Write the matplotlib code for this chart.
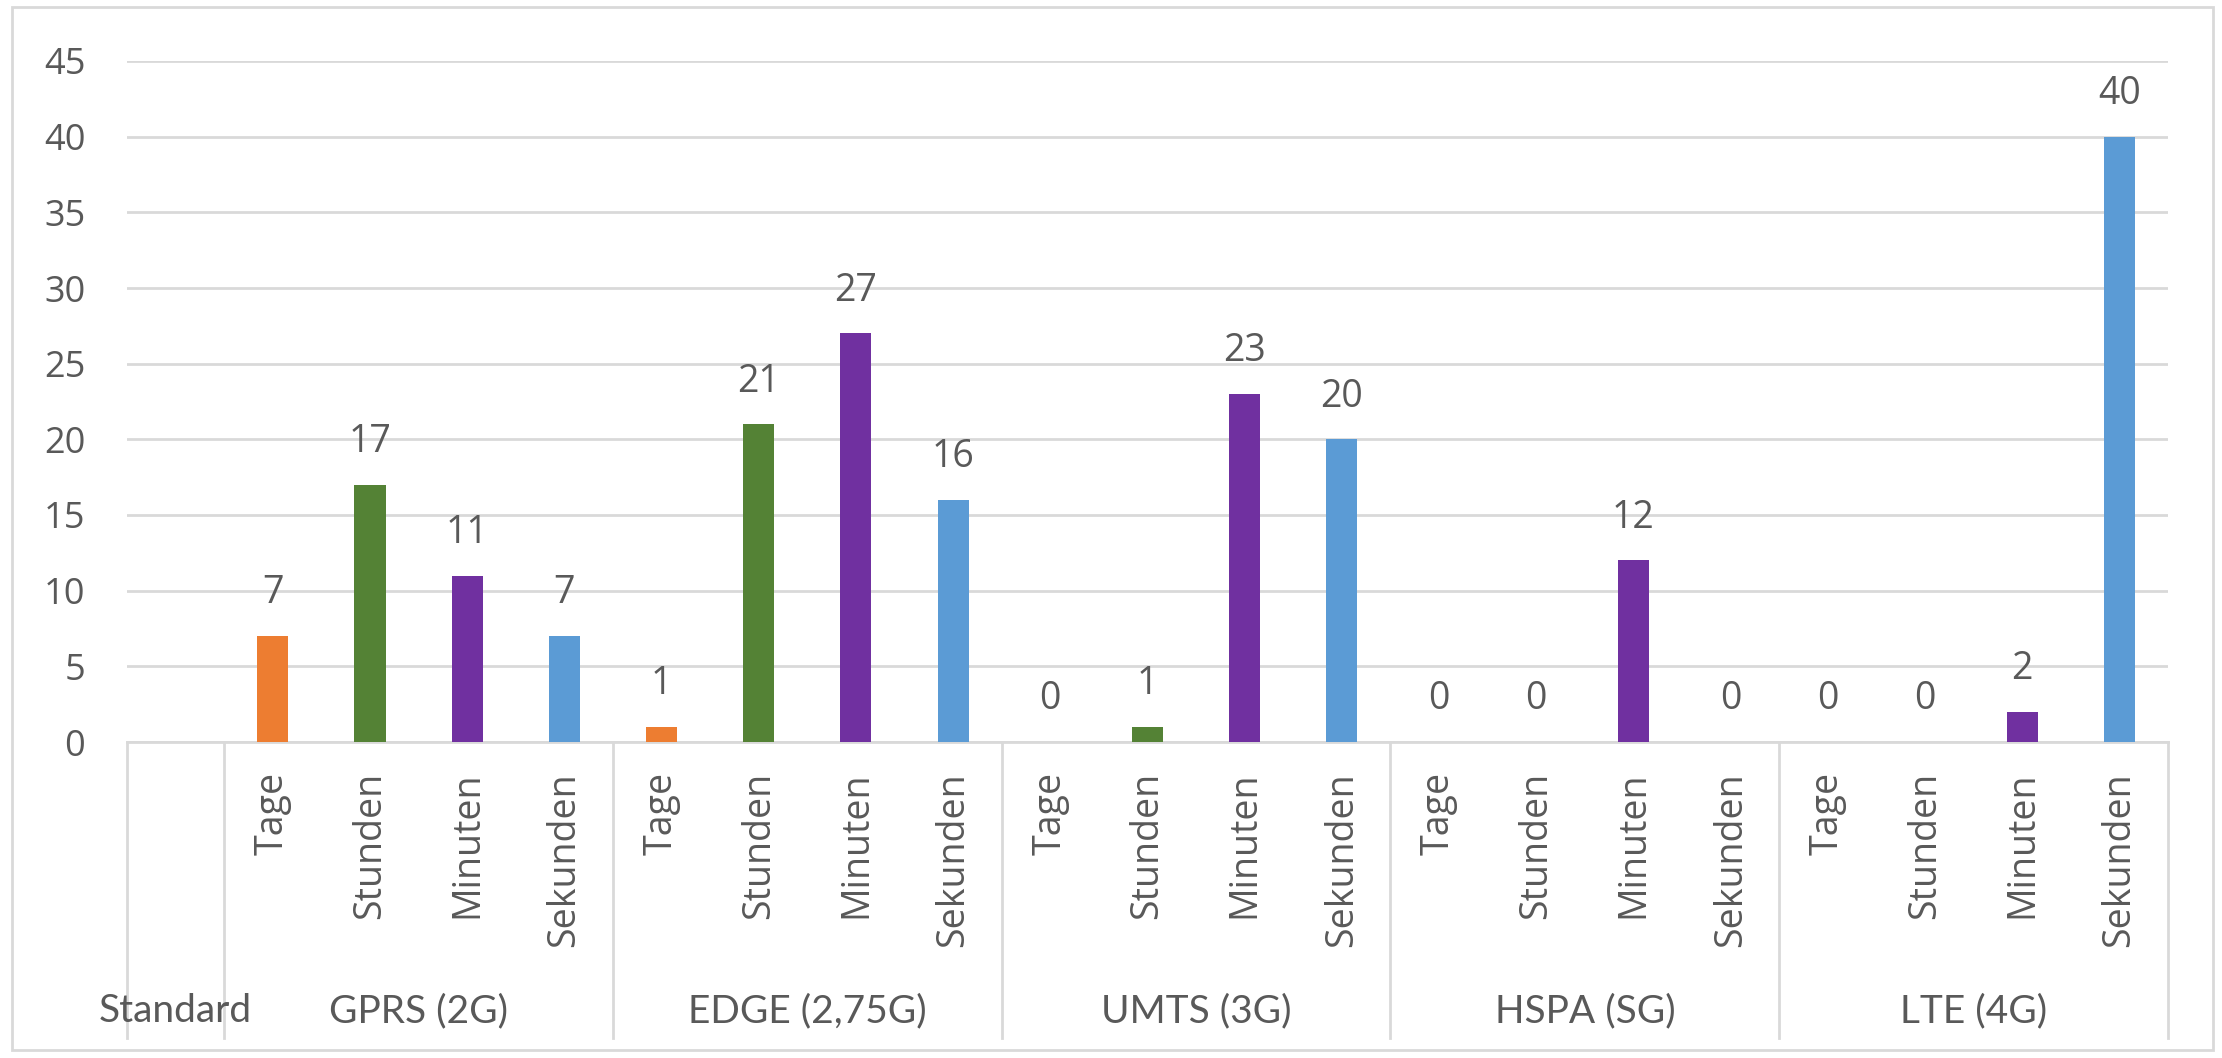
import matplotlib
matplotlib.use("Agg")
import matplotlib.pyplot as plt
import matplotlib.transforms as mtransforms
from matplotlib.patches import Rectangle

# Mobile network standards and the time units asked about
standards = ["GPRS (2G)", "EDGE (2,75G)", "UMTS (3G)", "HSPA (SG)", "LTE (4G)"]
units = ["Tage", "Stunden", "Minuten", "Sekunden"]

# Number of answers per standard, one list per time unit
tage = [7, 1, 0, 0, 0]
stunden = [17, 21, 1, 0, 0]
minuten = [11, 27, 23, 12, 2]
sekunden = [7, 16, 20, 0, 40]

first_level_label = "Standard"
y_ticks = [0, 5, 10, 15, 20, 25, 30, 35, 40, 45]

series = [tage, stunden, minuten, sekunden]
colors = ["#ED7D31", "#548235", "#7030A0", "#5B9BD5"]
text_color = "#595959"
line_color = "#D9D9D9"

W, H, DPI = 2222, 1058, 100
fig = plt.figure(figsize=(W / DPI, H / DPI), dpi=DPI)
fig.patch.set_facecolor("white")

# plot area in pixels
left_px, right_px, top_px, base_px = 127, 2168, 61, 742
ax = fig.add_axes([left_px / W, 1 - base_px / H,
                   (right_px - left_px) / W, (base_px - top_px) / H])

n_groups = len(standards)
n_units = len(units)
n_slots = 1 + n_groups * n_units

bar_width = 0.32
for u, (vals, col) in enumerate(zip(series, colors)):
    xs = [1 + g * n_units + u for g in range(n_groups)]
    ax.bar(xs, vals, width=bar_width, color=col, zorder=3)
    for x, v in zip(xs, vals):
        ax.annotate(str(v), xy=(x, v), xytext=(0, 23.5), textcoords="offset points",
                    ha="center", va="baseline", fontsize=27, color=text_color,
                    family="Open Sans", zorder=4)

ax.set_xlim(-0.5, n_slots - 0.5)
ax.set_ylim(y_ticks[0], y_ticks[-1])
ax.set_yticks(y_ticks)
ax.set_yticklabels([str(t) for t in y_ticks], fontsize=26, color=text_color,
                   family="Open Sans")
ax.tick_params(axis="y", length=0, pad=30)
ax.set_xticks([])
ax.grid(axis="y", color=line_color, linewidth=2.0, zorder=0)
for s in ["left", "right", "top"]:
    ax.spines[s].set_visible(False)
ax.spines["bottom"].set_color(line_color)
ax.spines["bottom"].set_linewidth(2.0)
ax.spines["bottom"].set_zorder(2)

axh = base_px - top_px
trans = mtransforms.blended_transform_factory(ax.transData, ax.transAxes)

# category separators below the axis
sep_bottom = (base_px - 1038) / axh
sep_x = [-0.5, 0.5] + [0.5 + (g + 1) * n_units for g in range(n_groups)]
for x in sep_x:
    ax.plot([x, x], [0, sep_bottom], transform=trans, color=line_color,
            linewidth=2.0, clip_on=False, zorder=1)

# rotated unit labels
unit_top = (base_px - 772) / axh
for g in range(n_groups):
    for u, name in enumerate(units):
        x = 1 + g * n_units + u
        ax.text(x, unit_top, name, transform=trans, rotation=90, ha="center",
                va="top", fontsize=27, color=text_color, family="Open Sans")

# standard (group) labels
group_base = (base_px - 1022) / axh
ax.text(0, group_base, first_level_label, transform=trans, ha="center",
        va="baseline", fontsize=28, color=text_color, family="Lato")
for g, name in enumerate(standards):
    x = 1 + g * n_units + (n_units - 1) / 2
    ax.text(x, group_base, name, transform=trans, ha="center",
            va="baseline", fontsize=28, color=text_color, family="Lato")

# outer chart frame
fig.patches.append(Rectangle((12 / W, 1 - 1050 / H), (2213 - 12) / W, (1050 - 7) / H,
                             transform=fig.transFigure, fill=False,
                             edgecolor=line_color, linewidth=2.0))

fig.savefig("out.png", dpi=DPI, facecolor="white")
